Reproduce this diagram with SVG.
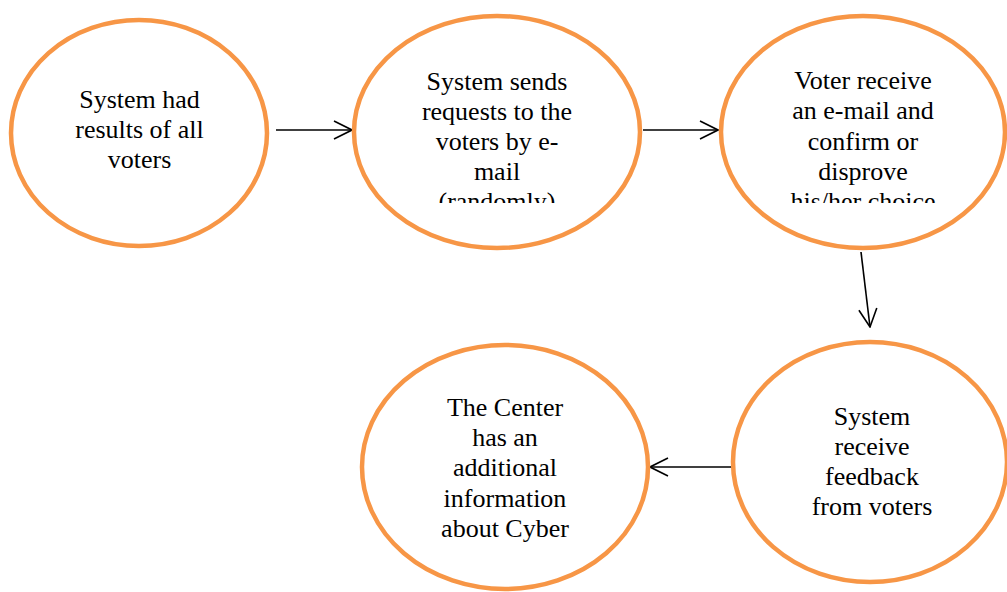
<svg xmlns="http://www.w3.org/2000/svg" width="1007" height="592" viewBox="0 0 1007 592">
  <style>
    .node ellipse { fill: #ffffff; stroke: #F79646; stroke-width: 4.5; }
    .node text { font-family: "Liberation Serif", "Times New Roman", serif; font-size: 26px; fill: #000000; text-anchor: middle; }
    .edge { stroke: #000000; stroke-width: 1.6; fill: none; }
  </style>
  <defs>
    <marker id="open-arrow" viewBox="0 0 20 20" refX="19" refY="10" markerWidth="20" markerHeight="20" markerUnits="userSpaceOnUse" orient="auto">
      <path d="M1,1 L19,10 L1,19" fill="none" stroke="#000000" stroke-width="1.6"/>
    </marker>
    <clipPath id="clip-sends"><rect x="360" y="40" width="270" height="163"/></clipPath>
    <clipPath id="clip-voter"><rect x="730" y="40" width="270" height="163"/></clipPath>
  </defs>
  <rect width="1007" height="592" fill="#ffffff"/>

  <g id="connectors">
    <line class="edge" x1="276" y1="130" x2="352" y2="130" marker-end="url(#open-arrow)"/>
    <line class="edge" x1="643" y1="130" x2="718" y2="130" marker-end="url(#open-arrow)"/>
    <line class="edge" x1="861" y1="252" x2="870" y2="327" marker-end="url(#open-arrow)"/>
    <line class="edge" x1="733" y1="467" x2="650" y2="467" marker-end="url(#open-arrow)"/>
  </g>

  <g id="node-results" class="node">
    <ellipse cx="139" cy="133" rx="128" ry="113"/>
    <text x="139.5" y="108">System had</text>
    <text x="139.5" y="138">results of all</text>
    <text x="139.5" y="168">voters</text>
  </g>

  <g id="node-requests" class="node">
    <ellipse cx="497" cy="132" rx="143" ry="116"/>
    <g clip-path="url(#clip-sends)">
      <text x="497" y="90">System sends</text>
      <text x="497" y="120">requests to the</text>
      <text x="497" y="150">voters by e-</text>
      <text x="497" y="180">mail</text>
      <text x="497" y="210">(randomly)</text>
    </g>
  </g>

  <g id="node-confirm" class="node">
    <ellipse cx="863" cy="132" rx="142" ry="116"/>
    <g clip-path="url(#clip-voter)">
      <text x="863" y="89">Voter receive</text>
      <text x="863" y="119">an e-mail and</text>
      <text x="863" y="150">confirm or</text>
      <text x="863" y="180">disprove</text>
      <text x="863" y="210">his/her choice</text>
    </g>
  </g>

  <g id="node-feedback" class="node">
    <ellipse cx="870" cy="462" rx="137" ry="120"/>
    <text x="872" y="425">System</text>
    <text x="872" y="455">receive</text>
    <text x="872" y="485">feedback</text>
    <text x="872" y="515">from voters</text>
  </g>

  <g id="node-center" class="node">
    <ellipse cx="505" cy="467" rx="143" ry="122"/>
    <text x="505" y="416">The Center</text>
    <text x="505" y="446">has an</text>
    <text x="505" y="476">additional</text>
    <text x="505" y="507">information</text>
    <text x="505" y="537">about Cyber</text>
  </g>
</svg>
